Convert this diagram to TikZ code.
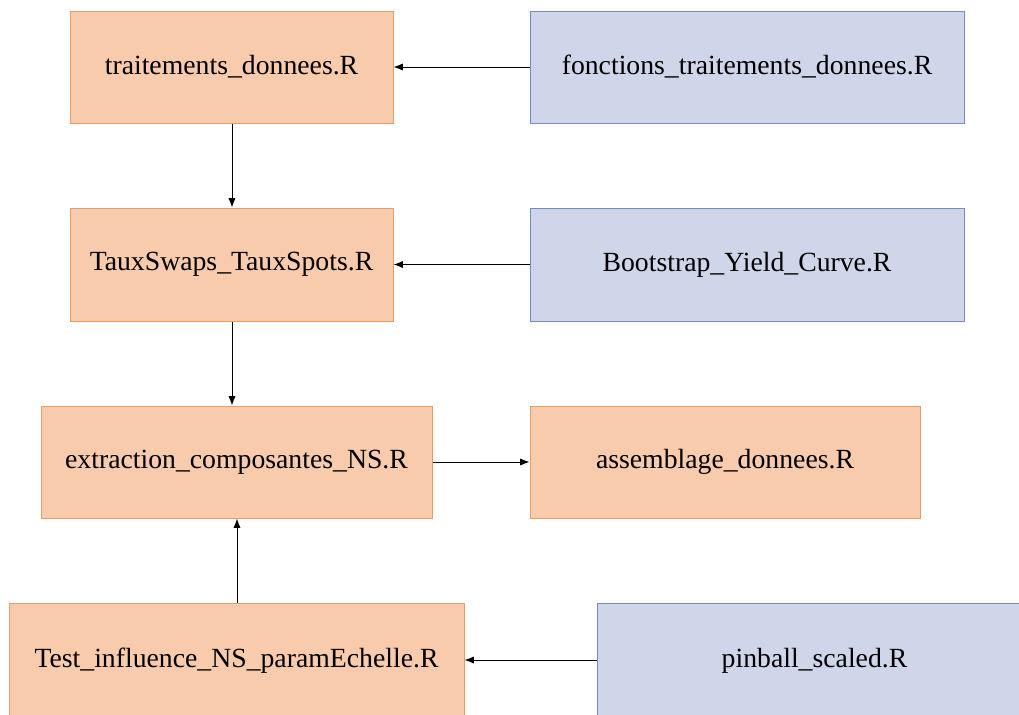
\documentclass[tikz,border=0pt]{standalone}
\usepackage{fontspec}
\setmainfont{Liberation Serif}
\usetikzlibrary{arrows.meta}
\definecolor{orfill}{RGB}{248,203,173}
\definecolor{ordraw}{RGB}{228,158,108}
\definecolor{blfill}{RGB}{208,214,234}
\definecolor{bldraw}{RGB}{118,140,192}
\tikzset{
  filebox/.style={draw, line width=0.75pt, inner sep=0pt, font=\fontsize{20.8}{24}\selectfont},
  script/.style={filebox, fill=orfill, draw=ordraw},
  library/.style={filebox, fill=blfill, draw=bldraw},
  link/.style={line width=0.75pt, -{Latex[length=7pt,width=5.4pt]}}
}
% #1 style, #2 name, #3-#6 corners (x1,y1,x2,y2) in pixel units, #7 text
\newcommand\filenode[7]{%
  \node[#1, minimum width={(#5-#3)*0.75pt}, minimum height={(#6-#4)*0.75pt}]
    (#2) at ({(#3+#5)/2},{(#4+#6)/2}) {#7};}
\begin{document}
\begin{tikzpicture}[x=0.75pt,y=-0.75pt]
  \useasboundingbox (0,0) rectangle (1019,714);
  \clip (0,0) rectangle (1019,714);
  \filenode{script}{td}{70}{11}{393}{123}{traitements\_donnees.R}
  \filenode{library}{ftd}{530}{11}{964}{123}{fonctions\_traitements\_donnees.R}
  \filenode{script}{ts}{70}{208}{393}{321}{TauxSwaps\_TauxSpots.R}
  \filenode{library}{byc}{530}{208}{964}{321}{Bootstrap\_Yield\_Curve.R}
  \filenode{script}{ecn}{41}{406}{432}{518}{extraction\_composantes\_NS.R}
  \filenode{script}{ad}{530}{406}{920}{518}{assemblage\_donnees.R}
  \filenode{script}{ti}{9}{603}{464}{719}{Test\_influence\_NS\_paramEchelle.R}
  \filenode{library}{ps}{597}{603}{1032}{719}{pinball\_scaled.R}

  \draw[link] (ftd.west) -- (td.east);
  \draw[link] (byc.west) -- (ts.east);
  \draw[link] (ecn.east) -- (ad.west);
  \draw[link] (ps.west |- 0,660) -- (ti.east |- 0,660);
  \draw[link] (td.south -| 232,0) -- (ts.north -| 232,0);
  \draw[link] (ts.south -| 232,0) -- (ecn.north -| 232,0);
  \draw[link] (ti.north -| 237,0) -- (ecn.south -| 237,0);
\end{tikzpicture}
\end{document}
